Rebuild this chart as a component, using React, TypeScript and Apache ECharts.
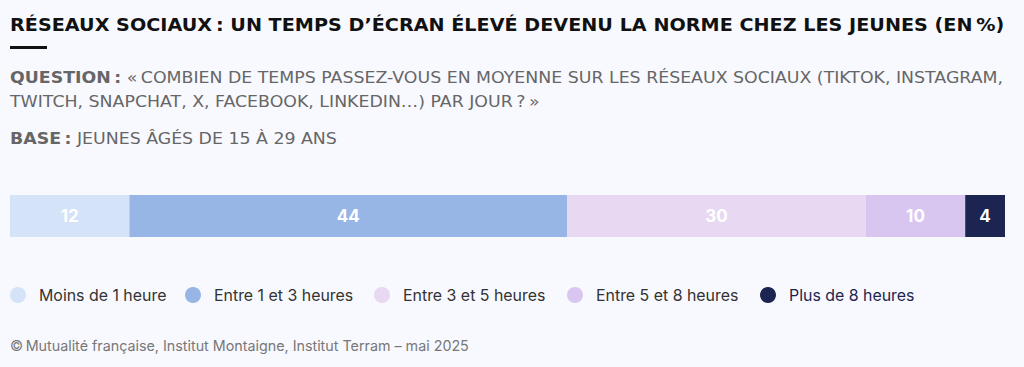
import React, { useEffect, useRef } from "react";
import * as echarts from "echarts";

const categories = ["Jeunes 15-29 ans"];
const seriesNames = [
  "Moins de 1 heure",
  "Entre 1 et 3 heures",
  "Entre 3 et 5 heures",
  "Entre 5 et 8 heures",
  "Plus de 8 heures",
];
const seriesValues = [12, 44, 30, 10, 4];
const seriesColors = ["#d5e3f8", "#97b5e5", "#e8d8f1", "#d9c6f0", "#1c2551"];
const legendLeft = [10, 185, 374, 567, 760];
const legendTextColors = ["#333333", "#333333", "#333333", "#333333", "#1c2551"];

const titleText = "RÉSEAUX SOCIAUX\u202f: UN TEMPS D’ÉCRAN ÉLEVÉ DEVENU LA NORME CHEZ LES JEUNES (EN\u202f%)";
const questionLabel = "QUESTION\u202f:";
const questionLine1 = " «\u202fCOMBIEN DE TEMPS PASSEZ-VOUS EN MOYENNE SUR LES RÉSEAUX SOCIAUX (TIKTOK, INSTAGRAM,";
const questionLine2 = "TWITCH, SNAPCHAT, X, FACEBOOK, LINKEDIN…) PAR JOUR\u202f?\u202f»";
const baseLabel = "BASE\u202f:";
const baseText = " JEUNES ÂGÉS DE 15 À 29 ANS";
const sourceText = "©\u202fMutualité française, Institut Montaigne, Institut Terram – mai 2025";

export default function App() {
  const ref = useRef<HTMLDivElement>(null);
  useEffect(() => {
    if (!ref.current) return;
    const chart = echarts.init(ref.current, undefined, { renderer: "svg" });
    const font = "Inter, 'Noto Sans', sans-serif";
    const wide = "'DejaVu Sans', sans-serif";
    chart.setOption({
      animation: false,
      backgroundColor: "#f8f9fe",
      textStyle: { fontFamily: font },
      grid: { left: 10, right: 19, top: 195, height: 42, containLabel: false },
      xAxis: { type: "value", min: 0, max: 100, show: false },
      yAxis: { type: "category", data: categories, show: false },
      legend: seriesNames.map((n, i) => ({
        data: [n],
        left: legendLeft[i],
        top: 287,
        icon: "circle",
        itemWidth: 16,
        itemHeight: 16,
        itemGap: 0,
        padding: 0,
        selectedMode: false,
        textStyle: {
          color: legendTextColors[i],
          fontSize: 15.9,
          fontFamily: font,
          padding: [0, 0, 0, 8],
        },
      })),
      series: seriesNames.map((n, i) => ({
        name: n,
        type: "bar",
        stack: "total",
        barWidth: "100%",
        data: [seriesValues[i]],
        itemStyle: { color: seriesColors[i] },
        label: {
          show: true,
          position: "inside",
          color: "#ffffff",
          fontSize: 17,
          fontWeight: "bold",
          fontFamily: font,
        },
      })),
      graphic: [
        {
          type: "text",
          x: 10,
          y: 16,
          scaleX: 1.097,
          style: {
            x: 0,
            y: 0,
            verticalAlign: "top",
            text: titleText,
            fontSize: 17.5,
            fontWeight: "bold",
            fill: "#111111",
            fontFamily: wide,
          },
        },
        {
          type: "rect",
          shape: { x: 10, y: 46, width: 37, height: 3 },
          style: { fill: "#111111" },
        },
        {
          type: "text",
          x: 10,
          y: 66,
          scaleX: 1.12,
          style: {
            x: 0,
            y: 0,
            verticalAlign: "top",
            text: "{b|" + questionLabel + "}{r|" + questionLine1 + "}\n{r|" + questionLine2 + "}",
            rich: {
              b: { fontSize: 15.5, fontWeight: "bold", fill: "#666666", fontFamily: wide, lineHeight: 24 },
              r: { fontSize: 15.5, fill: "#666666", fontFamily: wide, lineHeight: 24 },
            },
          },
        },
        {
          type: "text",
          x: 10,
          y: 131,
          scaleX: 1.12,
          style: {
            x: 0,
            y: 0,
            verticalAlign: "top",
            text: "{b|" + baseLabel + "}{r|" + baseText + "}",
            rich: {
              b: { fontSize: 15.5, fontWeight: "bold", fill: "#666666", fontFamily: wide },
              r: { fontSize: 15.5, fill: "#666666", fontFamily: wide },
            },
          },
        },
        {
          type: "text",
          x: 10,
          y: 338,
          style: {
            x: 0,
            y: 0,
            verticalAlign: "top",
            text: sourceText,
            fontSize: 14.3,
            fill: "#777777",
            fontFamily: font,
          },
        },
      ],
    });
    return () => chart.dispose();
  }, []);
  return (
    <div style={{ position: "absolute", left: 0, top: 0, width: 1024, height: 367 }}>
      <div ref={ref} style={{ width: 1024, height: 367 }} />
    </div>
  );
}
